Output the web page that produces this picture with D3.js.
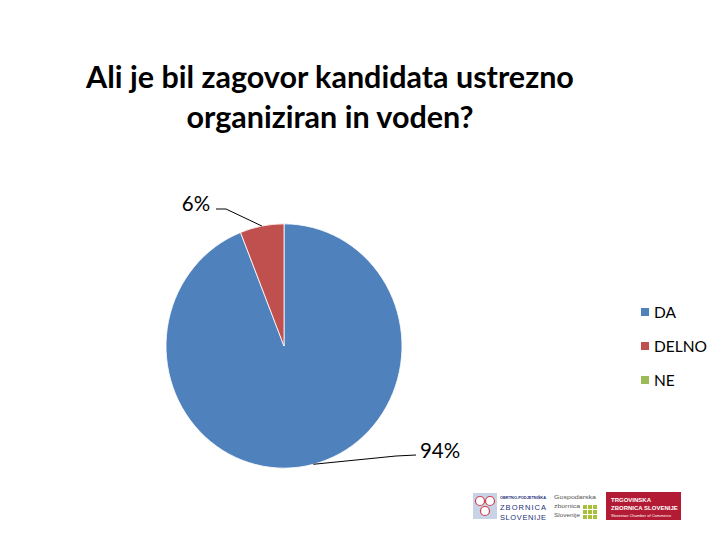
<!DOCTYPE html>
<html><head><meta charset="utf-8">
<script src="https://cdn.jsdelivr.net/npm/d3@7/dist/d3.min.js"></script>
<style>body{margin:0;background:#fff}svg{display:block}</style>
</head><body>
<svg id="c" width="720" height="540"></svg>
<script>
const titleLines = ["Ali je bil zagovor kandidata ustrezno", "organiziran in voden?"];
const categories = ["DA", "DELNO", "NE"];
const values = [94, 6, 0];
const colors = ["#4F81BD", "#C0504D", "#9BBB59"];

const svg = d3.select("#c");
const font = "Lato, 'Open Sans', sans-serif";

svg.selectAll("text.title").data(titleLines).join("text")
  .attr("class","title")
  .attr("x", 330).attr("y", (d,i)=>88+i*40)
  .attr("text-anchor","middle")
  .attr("font-family", font).attr("font-weight","bold")
  .attr("font-size", 30.5).attr("fill","#000")
  .text(d=>d);

const cx = 284, cy = 346, r = 118, sy = 1.035;
const data = categories.map((c,i)=>({cat:c, v:values[i], col:colors[i]}));
const pie = d3.pie().sort(null).value(d=>d.v);
const arcs = pie(data);
const arc = d3.arc().innerRadius(0).outerRadius(r);
const g = svg.append("g").attr("transform",`translate(${cx},${cy}) scale(1,${sy})`);
g.selectAll("path").data(arcs.filter(a=>a.data.v>0)).join("path")
  .attr("d", arc).attr("fill", d=>d.data.col)
  .attr("stroke","#fff").attr("stroke-width",0.8);

// labels with leader lines
const labelPos = {DA:{x:440,y:458, lx:416, ly:455}, DELNO:{x:196,y:211, lx:216, ly:209}};
arcs.filter(a=>a.data.v>0).forEach(a=>{
  const p = labelPos[a.data.cat];
  const mid = (a.startAngle+a.endAngle)/2;
  let ang = a.data.cat==="DA" ? Math.PI*0.92 : mid;
  const ex = cx + Math.sin(ang)*r, ey = cy - Math.cos(ang)*r*sy;
  const elbowX = a.data.cat==="DA" ? p.lx-20 : p.lx+10;
  svg.append("path")
    .attr("d", `M${p.lx},${p.ly} L${elbowX},${p.ly+(a.data.cat==="DA"?1:0)} L${ex},${ey}`)
    .attr("fill","none").attr("stroke","#000").attr("stroke-width",1);
  svg.append("text").attr("x",p.x).attr("y",p.y).attr("text-anchor","middle")
    .attr("font-family",font).attr("font-size",20.5).attr("fill","#000")
    .text(a.data.v+"%");
});

// legend
const lg = svg.append("g");
data.forEach((d,i)=>{
  const y = 312 + i*34;
  lg.append("rect").attr("x",641).attr("y",y-4).attr("width",8).attr("height",8).attr("fill",d.col);
  lg.append("text").attr("x",654).attr("y",y+6).attr("font-family",font)
    .attr("font-size",15.5).attr("fill","#000").text(d.cat);
});

// logos (approximation)
const lo = svg.append("g").attr("font-family","'Liberation Sans', sans-serif");
lo.append("rect").attr("x",473).attr("y",493).attr("width",24).attr("height",26).attr("fill","#c9d3e6");
[[480,501],[490,501],[485,511]].forEach(p=>lo.append("circle").attr("cx",p[0]).attr("cy",p[1]).attr("r",4.5).attr("fill","#fff").attr("stroke","#d04050").attr("stroke-width",1.2));
lo.append("text").attr("x",500).attr("y",499).attr("font-size",4).attr("font-weight","bold").attr("fill","#1b2f7a")
  .attr("textLength",46).attr("lengthAdjust","spacingAndGlyphs").text("OBRTNO-PODJETNIŠKA");
lo.append("text").attr("x",500).attr("y",510).attr("font-size",7.5).attr("fill","#1b2f7a")
  .attr("textLength",46).attr("lengthAdjust","spacing").text("ZBORNICA");
lo.append("text").attr("x",500).attr("y",520).attr("font-size",7.5).attr("fill","#1b2f7a")
  .attr("textLength",46).attr("lengthAdjust","spacing").text("SLOVENIJE");
lo.append("text").attr("x",554).attr("y",499).attr("font-size",6).attr("fill","#555")
  .attr("textLength",42).attr("lengthAdjust","spacingAndGlyphs").text("Gospodarska");
lo.append("text").attr("x",554).attr("y",508).attr("font-size",6).attr("fill","#555")
  .attr("textLength",26).attr("lengthAdjust","spacingAndGlyphs").text("zbornica");
lo.append("text").attr("x",554).attr("y",517).attr("font-size",6).attr("fill","#555")
  .attr("textLength",26).attr("lengthAdjust","spacingAndGlyphs").text("Slovenije");
for(let i=0;i<3;i++)for(let j=0;j<3;j++)
  lo.append("rect").attr("x",583+i*5).attr("y",505+j*5).attr("width",4).attr("height",4).attr("fill","#a8c03a");
lo.append("rect").attr("x",606).attr("y",492).attr("width",75).attr("height",28).attr("fill","#b31b34");
lo.append("text").attr("x",611).attr("y",502).attr("font-size",6).attr("font-weight","bold").attr("fill","#fff").text("TRGOVINSKA");
lo.append("text").attr("x",611).attr("y",510).attr("font-size",6).attr("font-weight","bold").attr("fill","#fff").text("ZBORNICA SLOVENIJE");
lo.append("text").attr("x",611).attr("y",517).attr("font-size",4).attr("fill","#fff").text("Slovenian Chamber of Commerce");
</script>
</body></html>
